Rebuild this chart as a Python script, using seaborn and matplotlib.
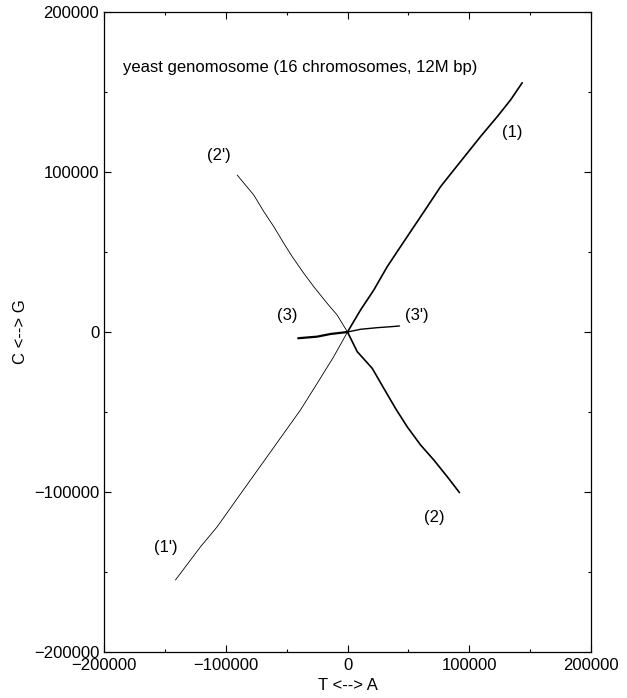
import numpy as np
import pandas as pd
import matplotlib
matplotlib.use("Agg")
import matplotlib.pyplot as plt
import seaborn as sns
from matplotlib.ticker import MultipleLocator

# Walk curves (T<-->A, C<-->G)
line1_x = [0, 10700, 21600, 32600, 43500, 54500, 65500, 76400, 87300, 98300, 109200, 123000, 133900, 143500]
line1_y = [0, 13750, 26250, 40800, 53300, 65800, 78300, 90800, 101250, 111700, 122100, 134600, 145000, 155800]

line1p_x = [0, -11300, -24900, -38600, -52300, -66000, -79700, -93400, -107000, -120700, -141300]
line1p_y = [0, -15400, -32100, -48700, -63300, -77900, -92500, -107100, -121700, -134200, -155000]

line2_x = [0, 8000, 20300, 29800, 39400, 49000, 60000, 70900, 81900, 92000]
line2_y = [0, -12300, -22700, -35200, -47700, -59200, -70600, -80000, -90400, -100400]

line2p_x = [0, -8500, -16700, -27700, -35900, -45400, -52300, -60500, -68700, -77000, -90600]
line2p_y = [0, 10600, 17900, 28300, 36700, 47100, 55400, 65800, 75200, 85600, 98100]

line3_x = [0, -14000, -24900, -40500]
line3_y = [0, -1250, -2900, -3900]

line3p_x = [0, 10700, 24400, 35300, 42700]
line3p_y = [0, 1700, 2700, 3300, 3750]

labels = ["(1)", "(1')", "(2)", "(2')", "(3)", "(3')"]
label_x = [135500, -149500, 71500, -106000, -49500, 57200]
label_y = [125000, -134800, -116000, 110600, 10600, 10600]

title_text = "yeast genomosome (16 chromosomes, 12M bp)"

sns.set_style("ticks")
plt.rcParams['font.family'] = ['Liberation Sans', 'DejaVu Sans']
plt.rcParams['text.color'] = 'black'
plt.rcParams['axes.labelcolor'] = 'black'
plt.rcParams['xtick.color'] = 'black'
plt.rcParams['ytick.color'] = 'black'

fig = plt.figure(figsize=(6.27, 6.98), dpi=100)
ax = fig.add_subplot(111)
fig.subplots_adjust(left=104/627, right=591/627, top=1-12/698, bottom=1-652/698)

curves = [
    (line1_x, line1_y, 1.2),
    (line1p_x, line1p_y, 0.6),
    (line2_x, line2_y, 1.2),
    (line2p_x, line2p_y, 0.6),
    (line3_x, line3_y, 1.6),
    (line3p_x, line3p_y, 1.0),
]
for xs, ys, lw in curves:
    df = pd.DataFrame({"x": xs, "y": ys})
    sns.lineplot(data=df, x="x", y="y", sort=False, estimator=None,
                 color="black", linewidth=lw, ax=ax)

for t, lx, ly in zip(labels, label_x, label_y):
    ax.text(lx, ly, t, ha="center", va="center", fontsize=12, color="black")

ax.text(-184000, 165600, title_text, ha="left", va="center", fontsize=12, color="black")

ax.set_xlim(-200000, 200000)
ax.set_ylim(-200000, 200000)
ax.xaxis.set_major_locator(MultipleLocator(100000))
ax.yaxis.set_major_locator(MultipleLocator(100000))
ax.xaxis.set_minor_locator(MultipleLocator(50000))
ax.yaxis.set_minor_locator(MultipleLocator(50000))
ax.tick_params(which="both", direction="in", top=True, right=True, labelsize=12, color="black")
ax.tick_params(which="major", length=5, width=0.8)
ax.tick_params(which="minor", length=2.5, width=0.8)
ax.tick_params(axis="x", pad=4)
for s in ax.spines.values():
    s.set_linewidth(0.9)
    s.set_color("black")

ax.set_xlabel("T <--> A", fontsize=12, labelpad=4)
ax.set_ylabel("C <--> G", fontsize=12, labelpad=4)

fig.savefig("out.png", dpi=100)
